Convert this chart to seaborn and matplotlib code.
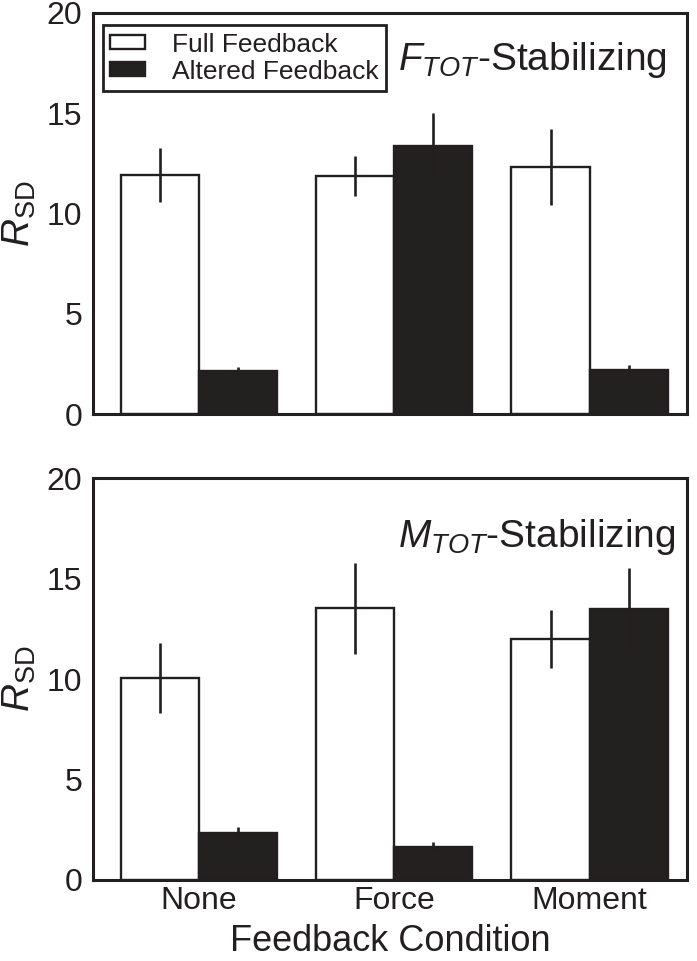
import matplotlib
matplotlib.use("Agg")
import matplotlib.pyplot as plt
import seaborn as sns
import pandas as pd
import numpy as np

conditions = ["None", "Force", "Moment"]
feedback_types = ["Full Feedback", "Altered Feedback"]

# F_TOT-stabilizing panel
ftot_full = [11.92, 11.87, 12.32]
ftot_full_err = [1.34, 1.01, 1.89]
ftot_alt = [2.16, 13.38, 2.19]
ftot_alt_err = [0.21, 1.61, 0.24]

# M_TOT-stabilizing panel
mtot_full = [10.07, 13.53, 12.00]
mtot_full_err = [1.74, 2.27, 1.46]
mtot_alt = [2.35, 1.63, 13.48]
mtot_alt_err = [0.30, 0.26, 2.04]

yticks = [0, 5, 10, 15, 20]
panel_titles = [r"$F_{TOT}$-Stabilizing", r"$M_{TOT}$-Stabilizing"]

sns.set_theme(style="white")
plt.rcParams["font.family"] = ["Liberation Sans", "DejaVu Sans"]
plt.rcParams["mathtext.fontset"] = "custom"
plt.rcParams["mathtext.rm"] = "Liberation Sans"
plt.rcParams["mathtext.it"] = "Liberation Sans:italic"
plt.rcParams["mathtext.bf"] = "Liberation Sans:bold"

dark = "#231f20"
palette = {"Full Feedback": "white", "Altered Feedback": dark}

fig = plt.figure(figsize=(6.97, 9.61), dpi=100)
ax1 = fig.add_axes([0.134, 0.5689, 0.852, 0.4179])
ax2 = fig.add_axes([0.134, 0.0843, 0.852, 0.4180])

panels = [
    (ax1, ftot_full, ftot_full_err, ftot_alt, ftot_alt_err),
    (ax2, mtot_full, mtot_full_err, mtot_alt, mtot_alt_err),
]

for i, (ax, full, full_err, alt, alt_err) in enumerate(panels):
    df = pd.DataFrame({
        "Condition": conditions * 2,
        "Feedback": [feedback_types[0]] * 3 + [feedback_types[1]] * 3,
        "RSD": list(full) + list(alt),
        "err": list(full_err) + list(alt_err),
    })
    sns.barplot(data=df, x="Condition", y="RSD", hue="Feedback",
                hue_order=feedback_types, order=conditions,
                palette=palette, edgecolor=dark, linewidth=1.7,
                errorbar=None, width=0.8, ax=ax, legend=(i == 0))
    # error bars at bar centres
    bars = [p for p in ax.patches if p.get_height() > 0]
    for p in bars:
        xc = p.get_x() + p.get_width() / 2
        h = p.get_height()
        row = df[np.isclose(df["RSD"], h)].iloc[0]
        ax.errorbar(xc, h, yerr=row["err"], fmt="none", ecolor=dark,
                    elinewidth=1.9, capsize=0, zorder=5)
    ax.set_ylim(0, 20)
    ax.set_xlim(-0.54, 2.50)
    ax.set_yticks(yticks)
    ax.tick_params(axis="y", length=0, labelsize=23, colors=dark, pad=8)
    ax.tick_params(axis="x", length=0, labelsize=23, colors=dark, pad=4)
    for s in ax.spines.values():
        s.set_visible(True)
        s.set_linewidth(2.2)
        s.set_color(dark)
    ax.set_ylabel(r"$R_{\mathrm{SD}}$", fontsize=28, color=dark, labelpad=6)
    ax.text(0.513, 0.882 if i == 0 else 0.854, panel_titles[i],
            transform=ax.transAxes, fontsize=28, color=dark,
            ha="left", va="center")
    if i == 0:
        ax.set_xlabel("")
        ax.set_xticklabels([])
        handles, labels = ax.get_legend_handles_labels()
        leg = ax.legend(handles, labels, loc="upper left",
                        bbox_to_anchor=(0.016, 0.969), borderaxespad=0,
                        fontsize=19, frameon=True, fancybox=False,
                        framealpha=1, edgecolor=dark, handlelength=1.33,
                        handleheight=0.45, handletextpad=1.0,
                        labelspacing=0.12, borderpad=0.28)
        leg.get_frame().set_linewidth(2.0)
        for t in leg.get_texts():
            t.set_color(dark)
    else:
        ax.set_xlabel("Feedback Condition", fontsize=26, color=dark, labelpad=6)

fig.savefig("out.png", dpi=100)
